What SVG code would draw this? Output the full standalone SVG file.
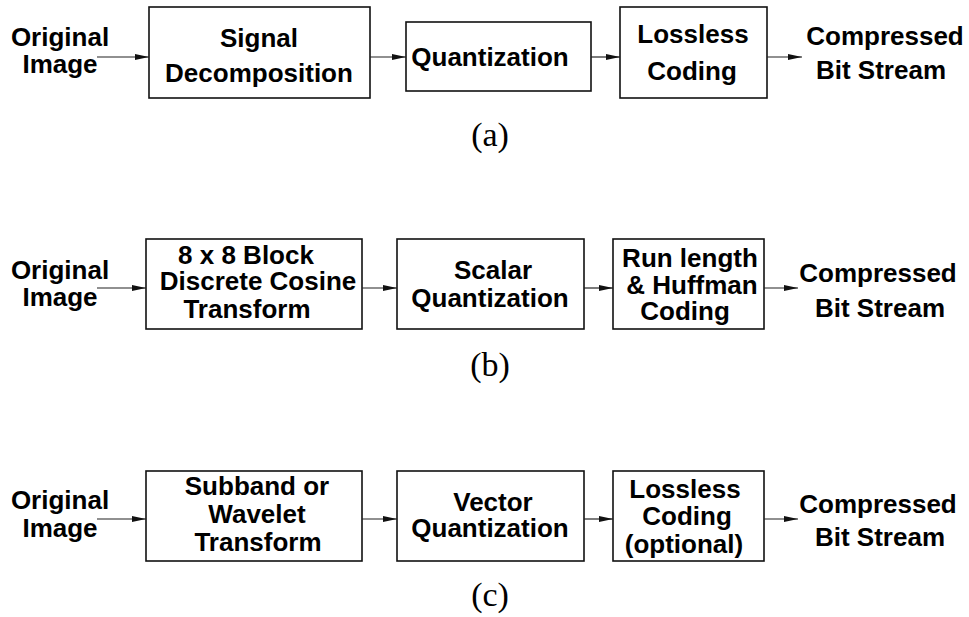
<svg xmlns="http://www.w3.org/2000/svg" width="969" height="617" viewBox="0 0 969 617">
<defs>
<marker id="ah" viewBox="0 0 14 6" refX="14" refY="3" markerWidth="14" markerHeight="6" markerUnits="userSpaceOnUse" orient="auto">
<path d="M0,0 L14,3 L0,6 Z" fill="#111"/>
</marker>
<style>
.box{fill:#fff;stroke:#111;stroke-width:1.6}
.t{font-family:"Liberation Sans",Arial,sans-serif;font-weight:bold;font-size:26px;fill:#000;text-anchor:middle}
.cap{font-family:"Liberation Serif","Times New Roman",serif;font-size:34px;fill:#000;text-anchor:middle}
.arr{stroke:#222;stroke-width:1.2;fill:none;marker-end:url(#ah)}
</style>
</defs>
<rect width="969" height="617" fill="#fff"/>

<!-- Row (a) -->
<g id="a-input"><text class="t" x="60" y="46">Original</text><text class="t" x="60" y="73">Image</text></g>
<g id="a-decomp"><rect class="box" x="149" y="7" width="221" height="91"/><text class="t" x="259" y="47">Signal</text><text class="t" x="259" y="82">Decomposition</text></g>
<g id="a-quant"><rect class="box" x="406" y="22" width="185" height="69"/><text class="t" x="490" y="66">Quantization</text></g>
<g id="a-coding"><rect class="box" x="620" y="7" width="147" height="91"/><text class="t" x="693" y="43">Lossless</text><text class="t" x="692" y="80">Coding</text></g>
<g id="a-output"><text class="t" x="885" y="45">Compressed</text><text class="t" x="881" y="79">Bit Stream</text></g>
<g id="a-caption"><text class="cap" x="490" y="146">(a)</text></g>

<!-- Row (b) -->
<g id="b-input"><text class="t" x="60" y="279">Original</text><text class="t" x="60" y="306">Image</text></g>
<g id="b-dct"><rect class="box" x="146" y="239" width="216" height="90"/><text class="t" x="246" y="264">8 x 8 Block</text><text class="t" x="258" y="290">Discrete Cosine</text><text class="t" x="247" y="318">Transform</text></g>
<g id="b-quant"><rect class="box" x="397" y="239" width="187" height="90"/><text class="t" x="493" y="279">Scalar</text><text class="t" x="490" y="307">Quantization</text></g>
<g id="b-coding"><rect class="box" x="613" y="239" width="151" height="90"/><text class="t" x="690" y="267">Run length</text><text class="t" x="692" y="294">&amp; Huffman</text><text class="t" x="685" y="320">Coding</text></g>
<g id="b-output"><text class="t" x="878" y="282">Compressed</text><text class="t" x="880" y="317">Bit Stream</text></g>
<g id="b-caption"><text class="cap" x="490" y="376">(b)</text></g>

<!-- Row (c) -->
<g id="c-input"><text class="t" x="60" y="509">Original</text><text class="t" x="60" y="537">Image</text></g>
<g id="c-wavelet"><rect class="box" x="146" y="471" width="216" height="90"/><text class="t" x="257" y="495">Subband or</text><text class="t" x="257" y="523">Wavelet</text><text class="t" x="258" y="551">Transform</text></g>
<g id="c-quant"><rect class="box" x="397" y="471" width="187" height="90"/><text class="t" x="493" y="511">Vector</text><text class="t" x="490" y="537">Quantization</text></g>
<g id="c-coding"><rect class="box" x="613" y="471" width="151" height="90"/><text class="t" x="685" y="498">Lossless</text><text class="t" x="687" y="525">Coding</text><text class="t" x="684" y="553">(optional)</text></g>
<g id="c-output"><text class="t" x="878" y="513">Compressed</text><text class="t" x="880" y="546">Bit Stream</text></g>
<g id="c-caption"><text class="cap" x="490" y="606">(c)</text></g>

<g id="connectors">
<line class="arr" x1="97" y1="57" x2="149" y2="57"/>
<line class="arr" x1="370" y1="57" x2="406" y2="57"/>
<line class="arr" x1="591" y1="57" x2="620" y2="57"/>
<line class="arr" x1="767" y1="57" x2="802" y2="57"/>
<line class="arr" x1="97" y1="288" x2="146" y2="288"/>
<line class="arr" x1="362" y1="288" x2="397" y2="288"/>
<line class="arr" x1="584" y1="288" x2="613" y2="288"/>
<line class="arr" x1="764" y1="288" x2="798" y2="288"/>
<line class="arr" x1="97" y1="519" x2="146" y2="519"/>
<line class="arr" x1="362" y1="519" x2="397" y2="519"/>
<line class="arr" x1="584" y1="519" x2="613" y2="519"/>
<line class="arr" x1="764" y1="519" x2="798" y2="519"/>
</g>
</svg>
